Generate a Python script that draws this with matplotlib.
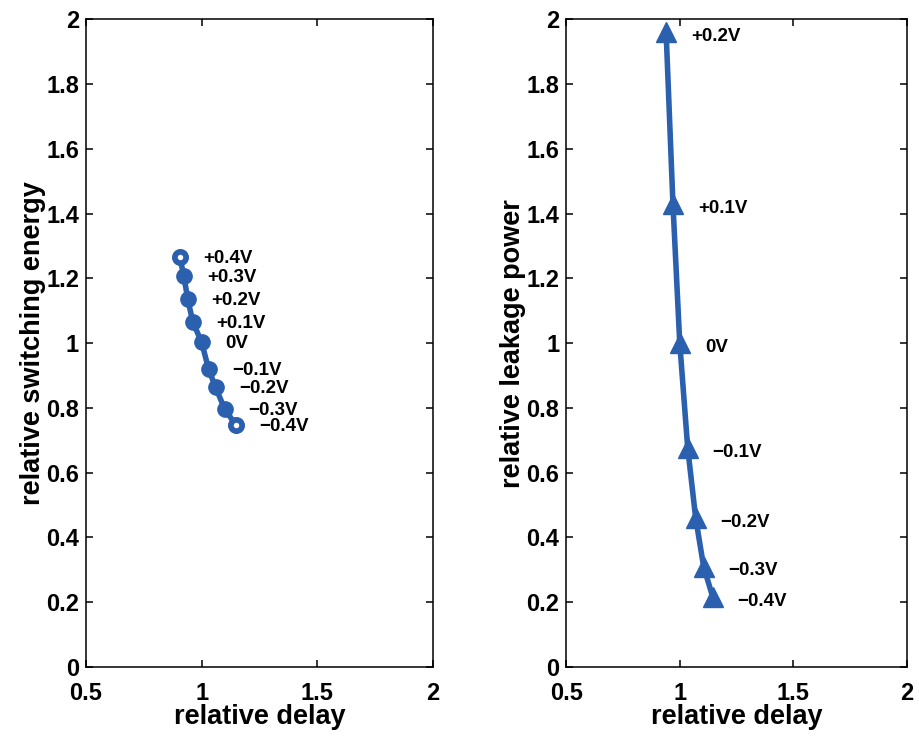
import matplotlib
matplotlib.use("Agg")
import matplotlib.pyplot as plt

plt.rcParams['font.family'] = ['Liberation Sans', 'DejaVu Sans']
plt.rcParams['font.weight'] = 'bold'

blue = '#2b60ae'

# left panel: switching energy vs delay
volts_left = ['+0.4V', '+0.3V', '+0.2V', '+0.1V', '0V', '\u22120.1V', '\u22120.2V', '\u22120.3V', '\u22120.4V']
delay_left = [0.906, 0.923, 0.94, 0.962, 1.0, 1.03, 1.06, 1.10, 1.148]
energy = [1.265, 1.207, 1.136, 1.065, 1.003, 0.92, 0.864, 0.796, 0.747]

# right panel: leakage power vs delay
volts_right = ['+0.2V', '+0.1V', '0V', '\u22120.1V', '\u22120.2V', '\u22120.3V', '\u22120.4V']
delay_right = [0.94, 0.97, 1.0, 1.035, 1.07, 1.105, 1.145]
leakage = [1.96, 1.43, 1.0, 0.676, 0.46, 0.31, 0.216]

fig = plt.figure(figsize=(9.19, 7.36), dpi=100)
ax1 = fig.add_axes([0.0936, 0.0938, 0.3774, 0.880])
ax2 = fig.add_axes([0.616, 0.0938, 0.371, 0.880])

# filled-looking circles along the curve, the two end ones show a small hole
ax1.plot(delay_left, energy, '-o', color=blue, lw=4, ms=11, zorder=2)
ends_x = [delay_left[0], delay_left[-1]]
ends_y = [energy[0], energy[-1]]
ax1.plot(ends_x, ends_y, 'o', color=blue, ms=8, mfc='white', mew=4, ls='none', zorder=3)
for v, x, y in zip(volts_left, delay_left, energy):
    ax1.annotate(v, (x, y), xytext=(17, -1), textcoords='offset points',
                 fontsize=13.5, fontweight='bold', va='center', ha='left')

ax2.plot(delay_right, leakage, '-^', color=blue, lw=4, ms=14)
for v, x, y in zip(volts_right, delay_right, leakage):
    ax2.annotate(v, (x, y), xytext=(18, -3), textcoords='offset points',
                 fontsize=13.5, fontweight='bold', va='center', ha='left')

for ax, ylab in [(ax1, 'relative switching energy'), (ax2, 'relative leakage power')]:
    ax.set_xlim(0.5, 2)
    ax.set_ylim(0, 2)
    ax.set_xticks([0.5, 1, 1.5, 2])
    ax.set_xticklabels(['0.5', '1', '1.5', '2'])
    ax.set_yticks([0, 0.2, 0.4, 0.6, 0.8, 1, 1.2, 1.4, 1.6, 1.8, 2])
    ax.set_yticklabels(['0', '0.2', '0.4', '0.6', '0.8', '1', '1.2', '1.4', '1.6', '1.8', '2'])
    ax.tick_params(direction='in', length=5, labelsize=17, width=1.1,
                   top=True, right=True)
    ax.tick_params(axis='x', pad=11)
    ax.tick_params(axis='y', pad=5)
    for lbl in ax.get_xticklabels() + ax.get_yticklabels():
        lbl.set_fontweight('bold')
    ax.set_xlabel('relative delay', fontsize=19.5, fontweight='bold', labelpad=-1)
    ax.set_ylabel(ylab, fontsize=19.5, fontweight='bold', labelpad=0)
    for s in ax.spines.values():
        s.set_linewidth(1.1)

fig.savefig('out.png', dpi=100)
